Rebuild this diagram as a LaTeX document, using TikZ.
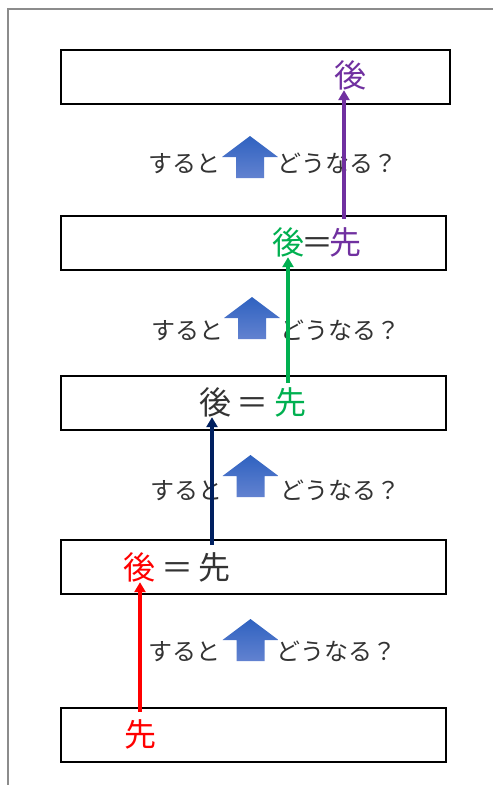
\documentclass[tikz,border=0pt]{standalone}
\usepackage{fontspec}
\usetikzlibrary{arrows.meta}
\newfontfamily\jp{Noto Sans CJK JP}
\definecolor{myred}{RGB}{255,0,0}
\definecolor{mynavy}{RGB}{0,32,96}
\definecolor{mygreen}{RGB}{0,176,80}
\definecolor{mypurple}{RGB}{112,48,160}
\definecolor{fattop}{RGB}{47,98,192}
\definecolor{fatbot}{RGB}{98,130,208}
\definecolor{framegray}{RGB}{140,140,140}
\newcommand{\fatup}[4]{%
  \path[top color=fattop, bottom color=fatbot]
    (#1-28,#3) -- (#1,#2) -- (#1+28,#3) -- (#1+14,#3) -- (#1+14,#4)
    -- (#1-14,#4) -- (#1-14,#3) -- cycle;}
\begin{document}
\begin{tikzpicture}[x=1pt,y=-1pt,
  box/.style={draw=black, line width=1.1pt, minimum height=54pt, inner sep=0},
  ch/.style={inner sep=0, font=\jp\fontsize{32}{32}\selectfont, text height=27pt, text depth=3pt},
  lbl/.style={inner sep=0, font=\jp\fontsize{24}{24}\selectfont, text height=21pt, text depth=3pt, text=black!80},
  conn/.style={line width=3.6pt, -{Triangle[length=10pt,width=11pt]}},
  ]
\useasboundingbox (0,0) rectangle (493,785);
\fill[white] (0,0) rectangle (493,785);
\draw[framegray, line width=2pt] (8,785) -- (8,9) -- (493,9);

% boxes
\node[box, minimum width=389pt] (b1) at (255.5,77) {};
\node[box, minimum width=385pt] (b2) at (253.5,243) {};
\node[box, minimum width=385pt] (b3) at (253.5,403) {};
\node[box, minimum width=385pt] (b4) at (253.5,567) {};
\node[box, minimum width=385pt] (b5) at (253.5,735) {};

% box texts
\node[ch, text=mypurple] (g1) at (350,75) {後};
\node[ch, text=mygreen] (g2) at (288,242) {後};
\node[ch, text=black!80] (e2) at (317,242) {＝};
\node[ch, text=mypurple] (s2) at (345,242) {先};
\node[ch, text=black!80] (g3) at (215,402) {後};
\node[ch, text=black!80] (e3) at (252,402) {＝};
\node[ch, text=mygreen] (s3) at (290,402) {先};
\node[ch, text=myred] (g4) at (139,567) {後};
\node[ch, text=black!80] (e4) at (177,567) {＝};
\node[ch, text=black!80] (s4) at (214,567) {先};
\node[ch, text=myred] (s5) at (140,734) {先};

% fat arrows
\fatup{250}{136}{157}{178}
\fatup{252}{297}{318}{339}
\fatup{250.5}{455}{476}{497}
\fatup{250.5}{619}{640}{661}

% labels
\node[lbl, anchor=east] (l1a) at (221,163) {すると};
\node[lbl, anchor=west] (l1b) at (277,163) {どうなる？};
\node[lbl, anchor=east] (l2a) at (224,330) {すると};
\node[lbl, anchor=west] (l2b) at (280,330) {どうなる？};
\node[lbl, anchor=east] (l3a) at (223,490) {すると};
\node[lbl, anchor=west] (l3b) at (280,490) {どうなる？};
\node[lbl, anchor=east] (l4a) at (221,651) {すると};
\node[lbl, anchor=west] (l4b) at (276,651) {どうなる？};

% connectors
\draw[conn, myred] ([yshift=7pt]s5.north) -- (s5.north |- g4.south);
\draw[conn, mynavy] ([xshift=-2pt,yshift=7pt]s4.north) -- ([xshift=-2pt]s4.north |- g3.south);
\draw[conn, mygreen] ([xshift=-2pt,yshift=4pt]s3.north) -- ([xshift=-2pt]s3.north |- g2.south);
\draw[conn, mypurple] ([xshift=-1pt,yshift=8pt]s2.north) -- ([xshift=-1pt]s2.north |- g1.south);
\end{tikzpicture}
\end{document}
